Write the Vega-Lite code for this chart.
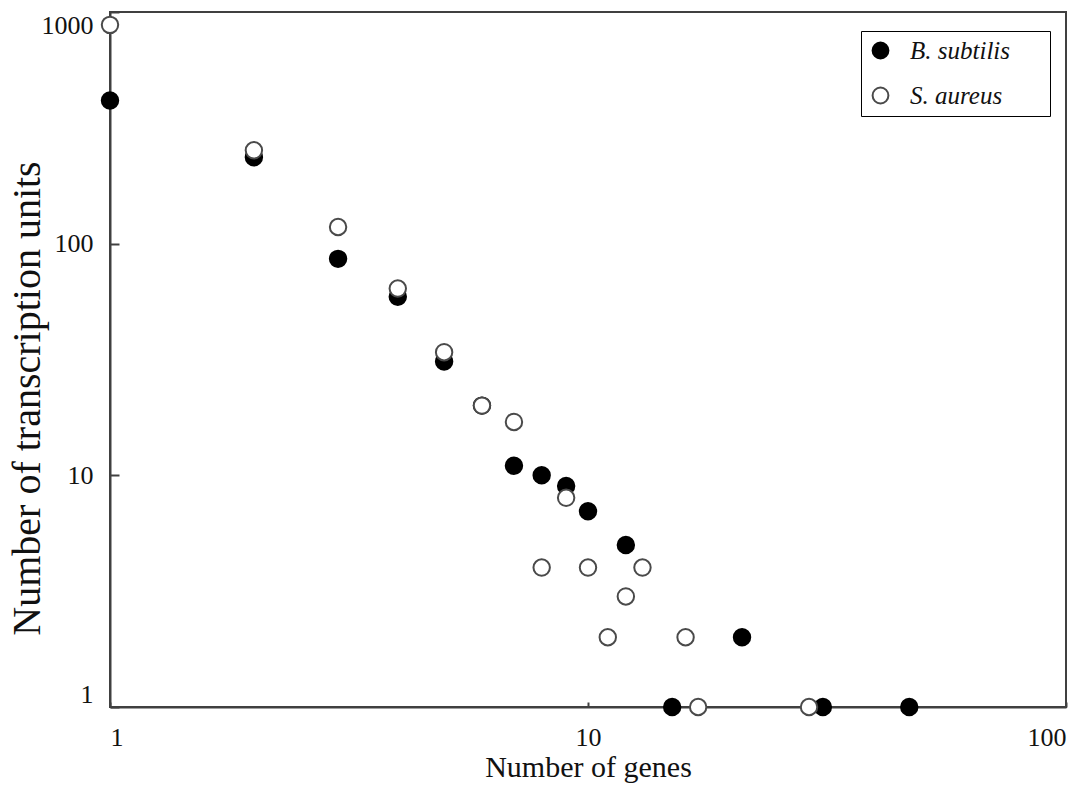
{
  "$schema": "https://vega.github.io/schema/vega-lite/v6.json",
  "width": 956,
  "height": 695,
  "autosize": "none",
  "padding": {"left": 110, "top": 12, "right": 6, "bottom": 80},
  "background": "white",
  "config": {
    "font": "Liberation Serif",
    "view": {"stroke": "#404040", "strokeWidth": 2},
    "axis": {
      "grid": false,
      "domainColor": "#404040",
      "domainWidth": 2,
      "tickColor": "#404040",
      "tickWidth": 2,
      "labelFont": "Liberation Serif",
      "titleFont": "Liberation Serif",
      "labelColor": "#111",
      "titleColor": "#111",
      "titleFontWeight": "normal"
    }
  },
  "data": {
    "values": [
      {"genes": 1, "units": 415, "species": "B. subtilis"},
      {"genes": 2, "units": 236, "species": "B. subtilis"},
      {"genes": 3, "units": 86, "species": "B. subtilis"},
      {"genes": 4, "units": 59, "species": "B. subtilis"},
      {"genes": 5, "units": 31, "species": "B. subtilis"},
      {"genes": 6, "units": 20, "species": "B. subtilis"},
      {"genes": 7, "units": 11, "species": "B. subtilis"},
      {"genes": 8, "units": 10, "species": "B. subtilis"},
      {"genes": 9, "units": 9, "species": "B. subtilis"},
      {"genes": 10, "units": 7, "species": "B. subtilis"},
      {"genes": 12, "units": 5, "species": "B. subtilis"},
      {"genes": 21, "units": 2, "species": "B. subtilis"},
      {"genes": 15, "units": 1, "species": "B. subtilis"},
      {"genes": 31, "units": 1, "species": "B. subtilis"},
      {"genes": 47, "units": 1, "species": "B. subtilis"},
      {"genes": 1, "units": 880, "species": "S. aureus"},
      {"genes": 2, "units": 253, "species": "S. aureus"},
      {"genes": 3, "units": 118, "species": "S. aureus"},
      {"genes": 4, "units": 64, "species": "S. aureus"},
      {"genes": 5, "units": 34, "species": "S. aureus"},
      {"genes": 6, "units": 20, "species": "S. aureus"},
      {"genes": 7, "units": 17, "species": "S. aureus"},
      {"genes": 9, "units": 8, "species": "S. aureus"},
      {"genes": 8, "units": 4, "species": "S. aureus"},
      {"genes": 10, "units": 4, "species": "S. aureus"},
      {"genes": 13, "units": 4, "species": "S. aureus"},
      {"genes": 12, "units": 3, "species": "S. aureus"},
      {"genes": 11, "units": 2, "species": "S. aureus"},
      {"genes": 16, "units": 2, "species": "S. aureus"},
      {"genes": 17, "units": 1, "species": "S. aureus"},
      {"genes": 29, "units": 1, "species": "S. aureus"}
    ]
  },
  "mark": {"type": "point", "shape": "circle", "filled": true, "size": 270, "strokeWidth": 2, "opacity": 1},
  "encoding": {
    "x": {
      "field": "genes",
      "type": "quantitative",
      "scale": {"type": "log", "domain": [1, 100], "nice": false},
      "axis": {
        "values": [1, 10, 100],
        "format": "d",
        "title": "Number of genes",
        "titleFontSize": 30,
        "labelFontSize": 26,
        "tickSize": -5,
        "labelPadding": 22,
        "labelFlush": true,
        "titlePadding": 2
      }
    },
    "y": {
      "field": "units",
      "type": "quantitative",
      "scale": {"type": "log", "domain": [1, 1000], "nice": false},
      "axis": {
        "values": [1, 10, 100, 1000],
        "format": "d",
        "title": "Number of transcription units",
        "titleFontSize": 40,
        "labelFontSize": 26,
        "tickSize": -9,
        "labelPadding": 26,
        "labelFlush": true,
        "titleX": -83,
        "titleY": 386,
        "titleBaseline": "middle",
        "titleAngle": -90
      }
    },
    "fill": {
      "field": "species",
      "type": "nominal",
      "scale": {"domain": ["B. subtilis", "S. aureus"], "range": ["#000000", "#ffffff"]},
      "legend": {
        "title": "\u00a0",
        "titleOrient": "right",
        "titleFontSize": 10,
        "titlePadding": 33,
        "orient": "none",
        "legendX": 751,
        "legendY": 19,
        "strokeColor": "#000000",
        "fillColor": "#ffffff",
        "padding": 7,
        "labelFont": "Liberation Serif",
        "labelFontStyle": "italic",
        "labelFontSize": 25,
        "labelColor": "#111",
        "labelOffset": 17,
        "rowPadding": 19,
        "symbolSize": 250,
        "symbolStrokeWidth": 2
      }
    },
    "stroke": {
      "field": "species",
      "type": "nominal",
      "scale": {"domain": ["B. subtilis", "S. aureus"], "range": ["#000000", "#4a4a4a"]},
      "legend": {
        "title": "\u00a0",
        "titleOrient": "right",
        "titleFontSize": 10,
        "titlePadding": 33,
        "orient": "none",
        "legendX": 751,
        "legendY": 19,
        "strokeColor": "#000000",
        "fillColor": "#ffffff",
        "padding": 7,
        "labelFont": "Liberation Serif",
        "labelFontStyle": "italic",
        "labelFontSize": 25,
        "labelColor": "#111",
        "labelOffset": 17,
        "rowPadding": 19,
        "symbolSize": 250,
        "symbolStrokeWidth": 2
      }
    }
  }
}
